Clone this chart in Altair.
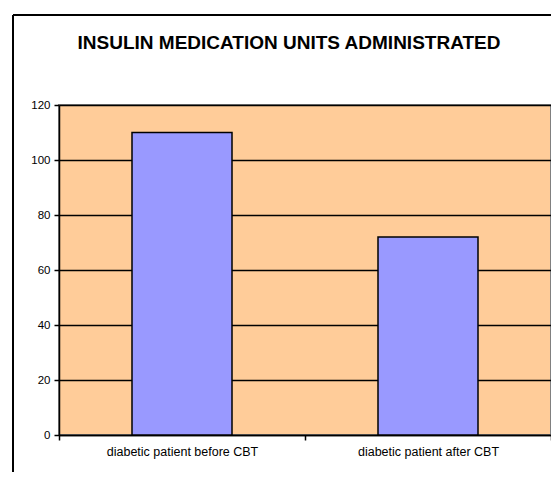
import altair as alt
import pandas as pd

categories = ["diabetic patient before CBT", "diabetic patient after CBT"]
units = [110, 72]
y_ticks = [0, 20, 40, 60, 80, 100, 120]

df = pd.DataFrame({"group": categories, "units": units})

W, H = 492, 330

bars = alt.Chart(df).mark_bar(
    size=100, color="#9999FF", stroke="#000000", strokeWidth=1.5
).encode(
    x=alt.X("group:N", sort=None, title=None,
            scale=alt.Scale(paddingInner=0, paddingOuter=0),
            axis=alt.Axis(labelAngle=0, tickBand="extent", tickSize=5,
                          tickColor="#000000", tickWidth=1.5,
                          domainColor="#000000", domainWidth=1.5,
                          labelFont="Liberation Sans", labelFontSize=12.5,
                          labelColor="#000000", labelPadding=5, grid=False)),
    y=alt.Y("units:Q", title=None,
            scale=alt.Scale(domain=[0, 120], nice=False),
            axis=alt.Axis(values=y_ticks, tickSize=5, tickColor="#000000",
                          tickWidth=1.5, domainColor="#000000", domainWidth=1.5,
                          gridColor="#000000", gridWidth=1.5, gridOpacity=1,
                          labelFont="Liberation Sans", labelFontSize=11.5,
                          labelColor="#000000", labelPadding=4)),
)

# outer chart frame (decoration)
frame_v = alt.Chart(df).mark_rule(color="#000000", strokeWidth=2).encode(
    x=alt.value(-46), y=alt.value(-90), y2=alt.value(400))
frame_h = alt.Chart(df).mark_rule(color="#000000", strokeWidth=2).encode(
    x=alt.value(-46), x2=alt.value(600), y=alt.value(-90))

chart = alt.layer(bars, frame_v, frame_h).properties(
    width=W, height=H,
    background="#FFFFFF",
    autosize=alt.AutoSizeParams(type="none"),
    padding={"left": 51, "top": 97, "right": 0, "bottom": 37},
    title=alt.TitleParams(
        "INSULIN MEDICATION UNITS ADMINISTRATED",
        font="Liberation Sans", fontSize=19, fontWeight="bold",
        color="#000000", anchor="middle", frame="group", dx=-16, offset=-39),
).configure_view(
    fill="#FFCC99", stroke="#808080", strokeWidth=2
)

chart.save("out.html", embed_options={"renderer": "svg", "actions": False})
